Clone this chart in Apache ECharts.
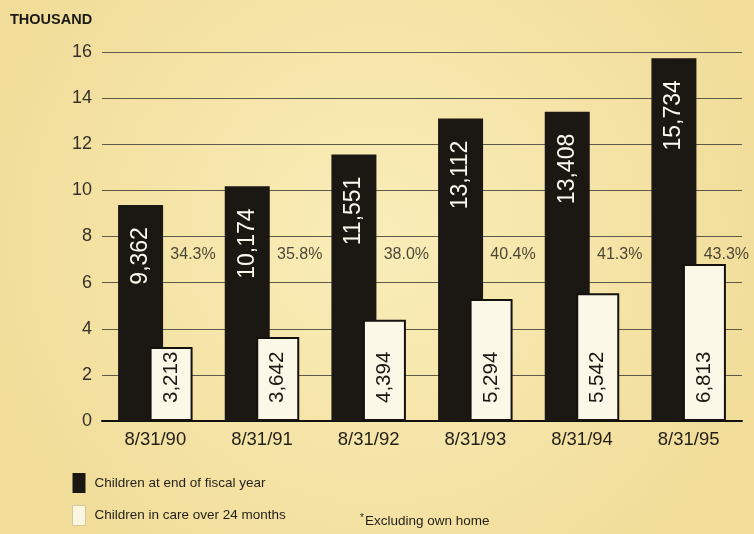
<!DOCTYPE html>
<html>
<head>
<meta charset="utf-8">
<script src="https://cdn.jsdelivr.net/npm/echarts@6/dist/echarts.min.js"></script>
<style>
  html, body { margin: 0; padding: 0; }
  #chart { width: 754px; height: 534px; }
</style>
</head>
<body>
<div id="chart"></div>
<script>
// 数据
const dates = ["8/31/90", "8/31/91", "8/31/92", "8/31/93", "8/31/94", "8/31/95"];
const endOfYear = [9362, 10174, 11551, 13112, 13408, 15734];
const over24Months = [3213, 3642, 4394, 5294, 5542, 6813];
const pctLabels = ["34.3%", "35.8%", "38.0%", "40.4%", "41.3%", "43.3%"];
const yTicks = [0, 2, 4, 6, 8, 10, 12, 14, 16];

const font = "'Liberation Sans', Arial, Helvetica, sans-serif";
const fmt = (v) => v.toLocaleString("en-US");
const PCT_Y = 7.2; // 百分比标签高度(千)

const option = {
  backgroundColor: {
    type: "radial", x: 0.5, y: 0.45, r: 0.8,
    colorStops: [
      { offset: 0, color: "#f9edb8" },
      { offset: 1, color: "#f1dc98" },
    ],
  },
  animation: false,
  title: {
    text: "THOUSAND",
    left: 10,
    top: 12,
    padding: 0,
    textStyle: { fontFamily: font, fontSize: 14.5, fontWeight: "bold", color: "#1c1a16" },
  },
  legend: {
    orient: "vertical",
    left: 72,
    top: 473,
    padding: 0,
    itemWidth: 13,
    itemHeight: 20,
    itemGap: 12,
    icon: "rect",
    textStyle: { fontFamily: font, fontSize: 13.5, color: "#221e18", padding: [12, 0, 0, 4] },
    data: [
      { name: "Children at end of fiscal year" },
      { name: "Children in care over 24 months", itemStyle: { color: "#fbf6e0", borderColor: "#d2c8a2", borderWidth: 1 } },
    ],
  },
  graphic: [
    {
      type: "text",
      left: 360,
      top: 513,
      style: {
        text: "{s|*}Excluding own home",
        font: "13.5px " + font,
        fill: "#221e18",
        rich: { s: { fontSize: 10, verticalAlign: "top", fill: "#221e18", padding: [0, 1, 6, 0] } },
      },
    },
  ],
  grid: { left: 102, right: 12, top: 52, bottom: 113 },
  xAxis: {
    type: "category",
    data: dates,
    axisLine: { lineStyle: { color: "#111", width: 2 } },
    axisTick: { show: false },
    axisLabel: { fontFamily: font, fontSize: 18.5, color: "#221e18", margin: 9 },
  },
  yAxis: {
    type: "value",
    min: yTicks[0],
    max: yTicks[yTicks.length - 1],
    interval: 2,
    axisLine: { show: false },
    axisTick: { show: false },
    axisLabel: {
      fontFamily: font, fontSize: 18, color: "#35312a", margin: 10,
      formatter: (v) => (yTicks.includes(v) ? String(v) : ""),
    },
    splitLine: { lineStyle: { color: "#5e584a", width: 1 } },
  },
  series: [
    {
      name: "Children at end of fiscal year",
      type: "bar",
      data: endOfYear.map((v) => v / 1000),
      barWidth: 45,
      barGap: "-30%",
      itemStyle: { color: "#1b1712" },
      label: {
        show: true,
        position: "insideTop",
        distance: 22,
        rotate: 90,
        align: "right",
        verticalAlign: "middle",
        fontFamily: font,
        fontSize: 23,
        color: "#fbf8ee",
        formatter: (p) => fmt(endOfYear[p.dataIndex]),
      },
      z: 2,
    },
    {
      name: "Children in care over 24 months",
      type: "bar",
      data: over24Months.map((v) => v / 1000),
      barWidth: 43,
      itemStyle: { color: "#fbf8e8", borderColor: "#15120e", borderWidth: 2 },
      label: {
        show: true,
        position: "insideBottom",
        distance: 18,
        rotate: 90,
        align: "left",
        verticalAlign: "middle",
        fontFamily: font,
        fontSize: 20.5,
        color: "#1b1712",
        formatter: (p) => fmt(over24Months[p.dataIndex]),
      },
      z: 3,
    },
    {
      type: "scatter",
      data: pctLabels.map((p, i) => [i, PCT_Y]),
      symbolSize: 0,
      silent: true,
      label: {
        show: true,
        position: "right",
        distance: 15,
        fontFamily: font,
        fontSize: 16,
        color: "#1f1b15",
        formatter: (p) => pctLabels[p.dataIndex],
      },
      z: 4,
    },
  ],
};

const myChart = echarts.init(document.getElementById("chart"));
myChart.setOption(option);
</script>
</body>
</html>
